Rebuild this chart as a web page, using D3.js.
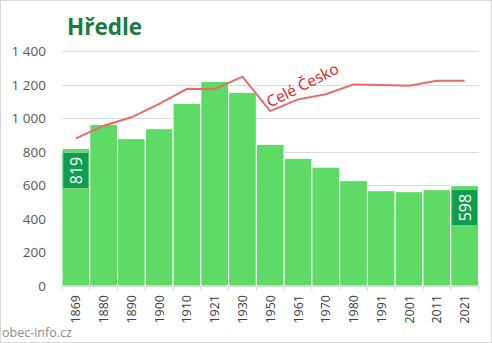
<!DOCTYPE html>
<html><head><meta charset="utf-8">
<script src="https://cdn.jsdelivr.net/npm/d3@7"></script>
<style>body{margin:0;background:#fff}svg{display:block}</style>
</head><body>
<script>
const years = ["1869","1880","1890","1900","1910","1921","1930","1950","1961","1970","1980","1991","2001","2011","2021"];
const population = [819,963,878,937,1088,1219,1154,844,761,708,628,568,562,574,598];
const czechiaScaled = [880,955,1005,1085,1175,1172,1247,1042,1112,1142,1201,1197,1193,1223,1223];
const yTicks = [0,200,400,600,800,1000,1200,1400];
const title = "Hředle";
const lineLabel = "Celé Česko";
const source = "obec-info.cz";

const W=492,H=343;
const svg=d3.select("body").append("svg").attr("width",W).attr("height",H);
svg.append("rect").attr("x",0.5).attr("y",0.5).attr("width",W-1).attr("height",H-1).attr("fill","#fff").attr("stroke","#d9d9d9");

const x=d3.scaleBand().domain(years).range([62,478.5]).padding(0);
const y=d3.scaleLinear().domain([0,1400]).range([286,51]);

// gridlines
svg.append("g").selectAll("line").data(yTicks.filter(d=>d>0)).join("line")
 .attr("x1",62).attr("x2",478.5).attr("y1",d=>Math.round(y(d))+0.5).attr("y2",d=>Math.round(y(d))+0.5)
 .attr("stroke","#d9d9d9").attr("stroke-width",1);

const fmt=d=>d>=1000?Math.floor(d/1000)+"\u00a0"+String(d%1000).padStart(3,"0"):String(d);
svg.append("g").selectAll("text").data(yTicks).join("text")
 .attr("x",46).attr("y",d=>y(d)+5).attr("text-anchor","end")
 .attr("font-family","Open Sans, sans-serif").attr("font-size",13.5).attr("fill","#595959")
 .text(fmt);

// bars
svg.append("g").selectAll("rect").data(years).join("rect")
 .attr("x",d=>x(d)).attr("width",x.bandwidth()).attr("y",(d,i)=>y(population[i]))
 .attr("height",(d,i)=>y(0)-y(population[i]))
 .attr("fill","#5ddb66").attr("stroke","#ffffff").attr("stroke-width",1);

// x axis
svg.append("line").attr("x1",62).attr("x2",478.5).attr("y1",286.5).attr("y2",286.5).attr("stroke","#d9d9d9");
svg.append("g").selectAll("line").data(years.concat(["end"])).join("line")
 .attr("x1",(d,i)=>i<years.length?x(d):478.5).attr("x2",(d,i)=>i<years.length?x(d):478.5)
 .attr("y1",286).attr("y2",291).attr("stroke","#d9d9d9");
svg.append("g").selectAll("text").data(years).join("text")
 .attr("transform",d=>`translate(${x(d)+x.bandwidth()/2+4.5},295) rotate(-90)`)
 .attr("text-anchor","end")
 .attr("font-family","Open Sans, sans-serif").attr("font-size",12.5).attr("fill","#404040")
 .text(d=>d);

// line
const line=d3.line().x((d,i)=>x(years[i])+x.bandwidth()/2).y(d=>y(d));
svg.append("path").attr("d",line(czechiaScaled)).attr("fill","none")
 .attr("stroke","#ea6a67").attr("stroke-width",2);
svg.append("text").attr("transform","translate(305,90) rotate(-27)")
 .attr("text-anchor","middle").attr("font-family","Open Sans, sans-serif").attr("font-size",15.5)
 .attr("fill","#e0201c").text(lineLabel);

// value labels
[[0,population[0]],[years.length-1,population[years.length-1]]].forEach(([i,v])=>{
  const cx=x(years[i])+x.bandwidth()/2;
  const top=y(v)+4;
  svg.append("rect").attr("x",cx-13).attr("y",top).attr("width",26).attr("height",36)
   .attr("fill","#0f9d50").attr("stroke","#7fd08c").attr("stroke-width",1);
  svg.append("text").attr("transform",`translate(${cx+6},${top+18}) rotate(-90)`)
   .attr("text-anchor","middle").attr("font-family","Open Sans, sans-serif").attr("font-size",16)
   .attr("fill","#fff").text(v);
});

svg.append("text").attr("x",67).attr("y",35).attr("font-family","Open Sans, sans-serif")
 .attr("font-weight","bold").attr("font-size",22.5).attr("fill","#177a3e").text(title);
svg.append("text").attr("x",2).attr("y",337).attr("font-family","Open Sans, sans-serif")
 .attr("font-size",12.5).attr("fill","#8c8c8c").text(source);
</script>
</body></html>
